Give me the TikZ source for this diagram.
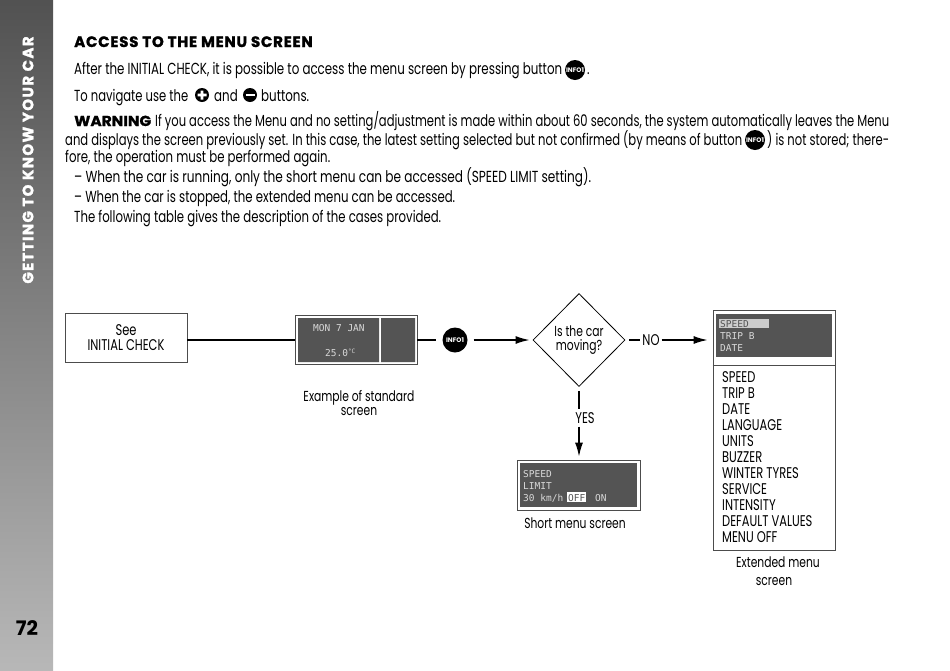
\documentclass[tikz,border=0pt]{standalone}
\usepackage{fontspec}
\setmainfont[FakeStretch=.74]{Poppins}
\newfontfamily\headfont{Poppins}
\newfontfamily\lcdfont{DejaVu Sans Mono}
\usetikzlibrary{shapes.geometric,arrows.meta}
\definecolor{lcdgray}{gray}{.33}
\newcommand{\fitw}[2]{\resizebox{#1pt}{\height}{#2}}
\tikzset{
  line/.style={draw=black,line width=1.5pt},
  head/.style={-{Latex[length=14pt,width=8pt]}},
  txt/.style={anchor=base west,inner sep=0pt,font=\fontsize{16}{16}\selectfont},
  itemtxt/.style={anchor=base west,inner sep=0pt,font=\fontsize{15.5}{15.5}\selectfont},
  captxt/.style={align=center,inner sep=0pt,font=\fontsize{14.5}{14.5}\selectfont},
  flowtxt/.style={align=center,inner sep=0pt,font=\fontsize{15.5}{15.5}\selectfont},
  lcd/.style={anchor=base west,inner sep=0pt,text=white!85!black,font=\lcdfont\fontsize{9.5}{9.5}\selectfont},
  frame/.style={draw=black!70,fill=white,line width=.7pt,inner sep=0pt},
  dark/.style={fill=lcdgray,draw=none,inner sep=0pt},
  info/.style={circle,fill=black,text=white,inner sep=0pt,font=\headfont\bfseries\fontsize{6.5}{6.5}\selectfont},
  roundbtn/.style={circle,fill=black,inner sep=0pt,minimum size=14pt}
}
\begin{document}
\begin{tikzpicture}[x=1pt,y=-1pt]
  \useasboundingbox (0,0) rectangle (950,670);
  % side band
  \shade [top color=black!68,bottom color=black!28] (0,0) rectangle (53,670);
  \node [rotate=90,text=white,inner sep=0pt,font=\headfont\bfseries\fontsize{15}{15}\selectfont] (bandtitle) at (28,160) {\addfontfeature{LetterSpace=9,FakeBold=1.5}GETTING TO KNOW YOUR CAR};
  \node [inner sep=0pt,font=\headfont\bfseries\fontsize{20}{20}\selectfont] (pagenr) at (27,628) {72};
  % text
  \node [txt,font=\headfont\bfseries\fontsize{15}{15}\selectfont] (title) at (74,47) {\addfontfeature{LetterSpace=5,FakeBold=1.5}ACCESS TO THE MENU SCREEN};
  \node [txt] (lineA) at (74,74) {\fitw{488}{After the INITIAL CHECK, it is possible to access the menu screen by pressing button}};
  \node [info,minimum size=20pt] (infoA) at (575,70) {INFO1};
  \node [txt] (dotA) at (587,74) {.};
  \node [txt] (lineB) at (74,101) {\fitw{114}{To navigate use the}};
  \node [roundbtn] (plus) at (202,95) {};
  \fill [white] (plus) +(-4.5,-1.3) rectangle +(4.5,1.3) +(-1.3,-4.5) rectangle +(1.3,4.5);
  \node [txt] (andtxt) at (214,101) {and};
  \node [roundbtn] (minus) at (250,95) {};
  \fill [white] (minus) +(-4.5,-1.3) rectangle +(4.5,1.3);
  \node [txt] (btntxt) at (261,101) {\fitw{48}{buttons.}};
  \node [txt,font=\headfont\bfseries\fontsize{14.5}{14.5}\selectfont] (warn) at (74,126) {\addfontfeature{FakeBold=1}\fitw{77}{WARNING}};
  \node [txt] (lineC) at (155,126) {\fitw{734}{If you access the Menu and no setting/adjustment is made within about 60 seconds, the system automatically leaves the Menu}};
  \node [txt] (lineD) at (65,145) {\fitw{677}{and displays the screen previously set. In this case, the latest setting selected but not confirmed (by means of button}};
  \node [info,minimum size=20pt] (infoB) at (755,140) {INFO1};
  \node [txt] (lineDb) at (767,145) {\fitw{122}{) is not stored; there-}};
  \node [txt] (lineE) at (65,162) {\fitw{265}{fore, the operation must be performed again.}};
  \node [txt] (lineF) at (74,182) {\fitw{517}{-- When the car is running, only the short menu can be accessed (SPEED LIMIT setting).}};
  \node [txt] (lineG) at (74,202) {\fitw{381}{-- When the car is stopped, the extended menu can be accessed.}};
  \node [txt] (lineH) at (74,222) {\fitw{367}{The following table gives the description of the cases provided.}};
  % flow chart
  \node [frame,flowtxt,minimum width=122pt,minimum height=49pt] (check) at (126,337.5) {See\\INITIAL CHECK};
  \node [frame,minimum width=122pt,minimum height=49pt] (stdscreen) at (356,340) {};
  \fill [lcdgray] (298,318) rectangle (379,362) (381,318) rectangle (415,362);
  \node [lcd] (stdA) at (313,331) {MON 7 JAN};
  \node [lcd] (stdB) at (325,356) {25.0\raisebox{3pt}{\fontsize{6}{6}\selectfont°C}};
  \node [captxt] (stdcap) at (359,403) {Example of standard\\screen};
  \node [info,minimum size=25pt] (infoC) at (455,340) {INFO1};
  \node [diamond,draw=black,line width=.8pt,inner sep=0pt,minimum width=92pt,minimum height=93pt,captxt] (moving) at (579,340) {Is the car\\moving?};
  \node [flowtxt,fill=white,inner xsep=2pt] (notxt) at (651,340) {NO};
  \node [flowtxt,fill=white,inner ysep=3pt] (yestxt) at (585,418) {YES};
  \node [frame,minimum width=122pt,minimum height=240pt] (extmenu) at (774,430) {};
  \node [dark,minimum width=116pt,minimum height=43pt] (extlcd) at (774,335.5) {};
  \draw [black!70,line width=.7pt] (extmenu.west |- 0,365) -- (extmenu.east |- 0,365);
  \fill [white!80!black] (719,319) rectangle (769,328);
  \node [lcd,text=lcdgray] (extA) at (720,327) {SPEED};
  \node [lcd] (extB) at (720,339) {TRIP B};
  \node [lcd] (extC) at (720,351) {DATE};
  \foreach \label [count=\i from 0] in {SPEED,TRIP B,DATE,LANGUAGE,UNITS,BUZZER,WINTER TYRES,SERVICE,INTENSITY,DEFAULT VALUES,MENU OFF}
    \node [itemtxt] (item\i) at (722,382+16*\i) {\label};
  \node [captxt] (extcap) at (778,571) {Extended menu\\[3pt]\hspace*{-8pt}screen};
  \node [frame,minimum width=123pt,minimum height=50pt] (shortmenu) at (578.5,485) {};
  \node [dark,minimum width=117pt,minimum height=44pt] (shortlcd) at (578.5,485) {};
  \node [lcd] (shortA) at (523,477) {SPEED};
  \node [lcd] (shortB) at (523,489) {LIMIT};
  \node [lcd] (shortC) at (523,501) {30 km/h};
  \fill [white] (567,492) rectangle (586,502);
  \node [lcd,text=lcdgray] (shortD) at (568,501) {OFF};
  \node [lcd] (shortE) at (595,501) {ON};
  \node [captxt] (shortcap) at (575,523) {Short menu screen};
  \draw [line] (check.east |- stdscreen) -- (stdscreen);
  \draw [line,shorten >=6pt] (stdscreen) -- (infoC);
  \draw [head,line,shorten <=6pt,shorten >=3pt] (infoC) -- (moving);
  \draw [line,shorten <=4pt] (moving) -- (notxt);
  \draw [head,line,shorten >=5pt] (notxt) -- (notxt -| extmenu.west);
  \draw [line,shorten <=4pt] (moving.south) -- (moving.south |- yestxt.north);
  \draw [head,line,shorten >=3pt] (moving.south |- yestxt.south) -- (moving.south |- shortmenu.north);
\end{tikzpicture}
\end{document}
